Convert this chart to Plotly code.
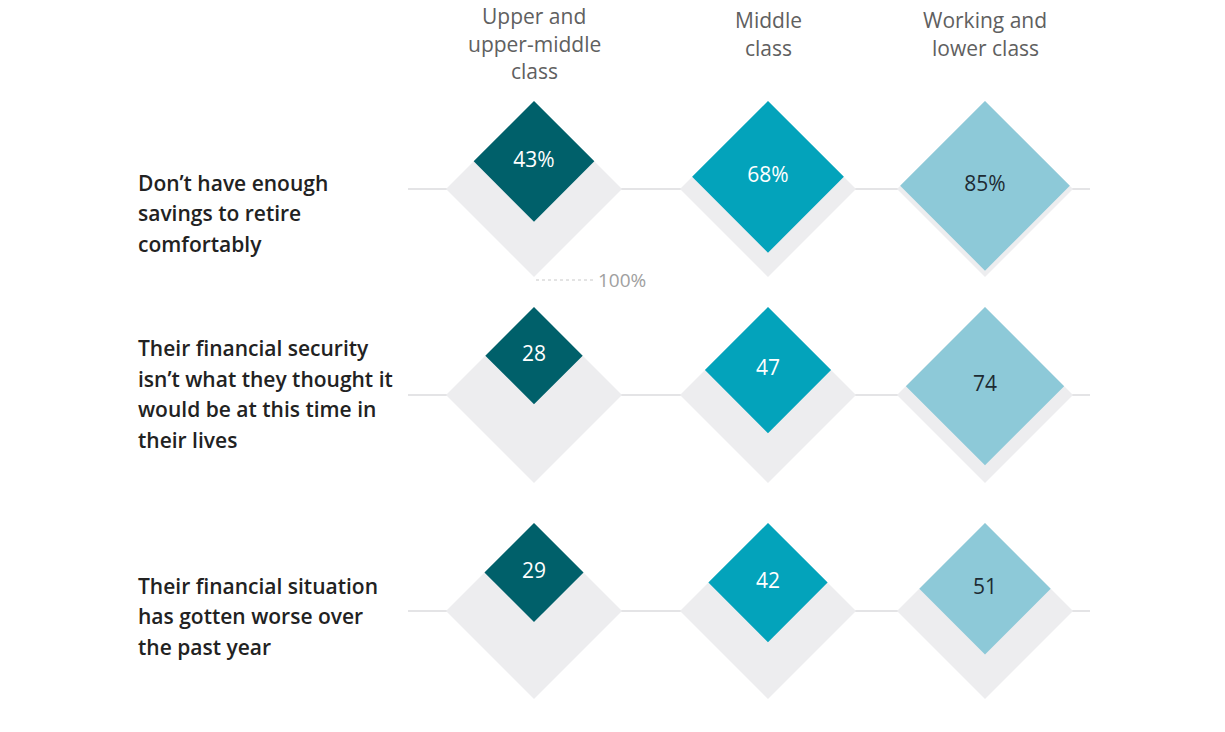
import math
import plotly.graph_objects as go

# ---- data ----
columns = ["Upper and\nupper-middle\nclass", "Middle\nclass", "Working and\nlower class"]
rows = [
    "Don’t have enough\nsavings to retire\ncomfortably",
    "Their financial security\nisn’t what they thought it\nwould be at this time in\ntheir lives",
    "Their financial situation\nhas gotten worse over\nthe past year",
]
upper_vals = [43, 28, 29]
middle_vals = [68, 47, 42]
working_vals = [85, 74, 51]
reference_label = "100%"

# ---- layout constants ----
W, H = 1225, 732
COL_X = [534, 768, 985]
ROW_Y = [189, 395, 611]
GRAY_HALF = 88
SCALE = 92
LINE_X0, LINE_X1 = 408, 1090
LABEL_X = 136
LABEL_CY = [213, 394, 616]
LABEL_LH = 30.5
HEAD_Y0 = [16, 20, 20]
HEAD_LH = 27.5
COLORS = ["#00606a", "#03a3bb", "#8dc9d8"]
TEXT_COLORS = ["#ffffff", "#ffffff", "#1d2b33"]
GRAY = "#ededef"
FONT = "Open Sans"

series = [upper_vals, middle_vals, working_vals]

def diamond(cx, cy, h):
    return [cx, cx + h, cx, cx - h, cx, None], [cy - h, cy, cy + h, cy, cy - h, None]

fig = go.Figure()

# row lines
lx, ly = [], []
for y in ROW_Y:
    lx += [LINE_X0, LINE_X1, None]
    ly += [y, y, None]
fig.add_trace(go.Scatter(x=lx, y=ly, mode="lines", line=dict(color="#e4e4e6", width=2),
                         hoverinfo="skip", showlegend=False))

# gray 100% diamonds
gx, gy = [], []
for y in ROW_Y:
    for x in COL_X:
        dx, dy = diamond(x, y, GRAY_HALF)
        gx += dx
        gy += dy
fig.add_trace(go.Scatter(x=gx, y=gy, mode="lines", fill="toself", fillcolor=GRAY,
                         line=dict(width=0, color=GRAY), hoverinfo="skip", showlegend=False))

# colored diamonds
tx, ty, tt, tc = [], [], [], []
for ci, vals in enumerate(series):
    cx_, cy_ = [], []
    for ri, v in enumerate(vals):
        h = SCALE * math.sqrt(v / 100)
        top = ROW_Y[ri] - GRAY_HALF
        cyc = top + h
        dx, dy = diamond(COL_X[ci], cyc, h)
        cx_ += dx
        cy_ += dy
        tx.append(COL_X[ci])
        ty.append(cyc)
        tt.append(f"{v}%" if ri == 0 else f"{v}")
        tc.append(TEXT_COLORS[ci])
    fig.add_trace(go.Scatter(x=cx_, y=cy_, mode="lines", fill="toself", fillcolor=COLORS[ci],
                             line=dict(width=0, color=COLORS[ci]), name=columns[ci].replace("\n", " "),
                             showlegend=False))

fig.add_trace(go.Scatter(x=tx, y=ty, mode="text", text=tt,
                         textfont=dict(family=FONT, size=21, color=tc),
                         hoverinfo="skip", showlegend=False))

# 100% reference
by = ROW_Y[0] + GRAY_HALF + 3
fig.add_trace(go.Scatter(x=[COL_X[0] + 2, COL_X[0] + 60], y=[by, by], mode="lines",
                         line=dict(color="#c8c8c8", width=1, dash="dot"),
                         hoverinfo="skip", showlegend=False))
annotations = [dict(x=COL_X[0] + 62, y=by, text=reference_label, xanchor="left", yanchor="middle",
                    showarrow=False, font=dict(family=FONT, size=19, color="#a0a0a0"))]

# column headers
for ci, col in enumerate(columns):
    for li, line in enumerate(col.split("\n")):
        annotations.append(dict(x=COL_X[ci], y=HEAD_Y0[ci] + li * HEAD_LH, text=line,
                                xanchor="center", yanchor="middle", showarrow=False,
                                font=dict(family=FONT, size=21, color="#606060")))

# row labels
for ri, lab in enumerate(rows):
    lines = lab.split("\n")
    n = len(lines)
    for li, line in enumerate(lines):
        y = LABEL_CY[ri] + (li - (n - 1) / 2) * LABEL_LH
        annotations.append(dict(x=LABEL_X, y=y, text=line, xanchor="left", yanchor="middle",
                                showarrow=False,
                                font=dict(family=FONT, size=21, color="#222222", weight=600)))

fig.update_layout(
    width=W, height=H, margin=dict(l=0, r=0, t=0, b=0),
    paper_bgcolor="white", plot_bgcolor="white",
    xaxis=dict(range=[0, W], visible=False, fixedrange=True),
    yaxis=dict(range=[H, 0], visible=False, fixedrange=True),
    annotations=annotations,
    showlegend=False,
)

fig.write_html("out.html")
